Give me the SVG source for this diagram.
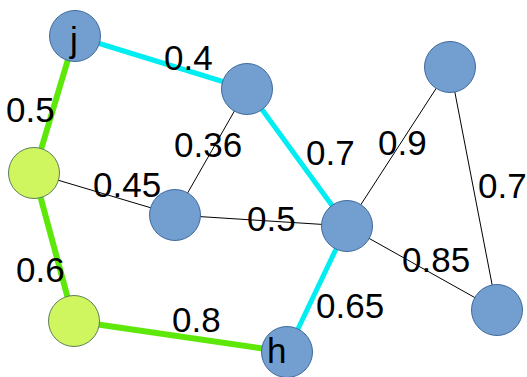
<svg xmlns="http://www.w3.org/2000/svg" width="527" height="377" viewBox="0 0 527 377">
<style>
.e{stroke:#000;stroke-width:1;fill:none}
.c{stroke:#00eef2;stroke-width:5;fill:none}
.g{stroke:#5ee80a;stroke-width:6;fill:none}
.nb{fill:#729fcf;stroke:#3f6a9e;stroke-width:1}
.ng{fill:#cff55f;stroke:#5d7f5a;stroke-width:1}
text{font-family:"Liberation Sans",Arial,sans-serif;font-size:35px;fill:#000}
</style>
<rect width="527" height="377" fill="#fff"/>
<g id="connectors">
<line class="c" x1="75" y1="36" x2="247" y2="89"/>
<line class="g" x1="75" y1="36" x2="34" y2="173"/>
<line class="c" x1="247" y1="89" x2="347" y2="226"/>
<line class="e" x1="247" y1="89" x2="175" y2="215"/>
<line class="e" x1="34" y1="173" x2="175" y2="215"/>
<line class="e" x1="175" y1="215" x2="347" y2="226"/>
<line class="e" x1="347" y1="226" x2="450" y2="67"/>
<line class="e" x1="450" y1="67" x2="497" y2="310"/>
<line class="e" x1="347" y1="226" x2="497" y2="310"/>
<line class="c" x1="347" y1="226" x2="287" y2="352"/>
<line class="g" x1="34" y1="173" x2="74" y2="321"/>
<line class="g" x1="74" y1="321" x2="287" y2="352"/>
<text x="164" y="70">0.4</text>
<text x="6" y="122">0.5</text>
<text x="174" y="157">0.36</text>
<text x="93" y="197">0.45</text>
<text x="247" y="231">0.5</text>
<text x="306" y="165">0.7</text>
<text x="378" y="155">0.9</text>
<text x="478" y="198">0.7</text>
<text x="402" y="272">0.85</text>
<text x="316" y="318">0.65</text>
<text x="16" y="282">0.6</text>
<text x="172" y="332">0.8</text>
</g>
<g id="j"><circle class="nb" cx="75" cy="36" r="25.5"/><text x="70" y="52">j</text></g>
<g id="n1"><circle class="nb" cx="247" cy="89" r="25.5"/></g>
<g id="n2"><circle class="ng" cx="34" cy="173" r="25.5"/></g>
<g id="n3"><circle class="nb" cx="175" cy="215" r="25.5"/></g>
<g id="n4"><circle class="nb" cx="347" cy="226" r="25.5"/></g>
<g id="n5"><circle class="nb" cx="450" cy="67" r="25.5"/></g>
<g id="n6"><circle class="nb" cx="497" cy="310" r="25.5"/></g>
<g id="n7"><circle class="ng" cx="74" cy="321" r="25.5"/></g>
<g id="h"><circle class="nb" cx="287" cy="352" r="25.5"/><text x="267" y="363">h</text></g>
</svg>
